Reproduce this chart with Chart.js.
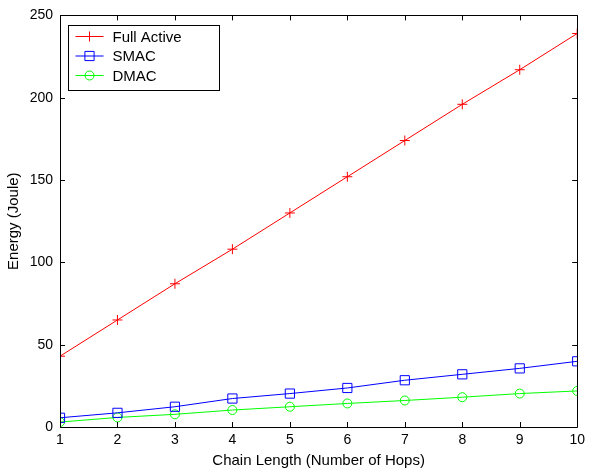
<!DOCTYPE html>
<html lang="en">
<head>
  <meta charset="UTF-8" />
  <title>Energy vs Chain Length</title>
  <script src="https://cdn.jsdelivr.net/npm/chart.js"></script>
  <style>
    html, body { margin: 0; padding: 0; background: #fff; }
    #wrap { width: 590px; height: 475px; }
  </style>
</head>
<body>
  <div id="wrap"><canvas id="energy" width="590" height="475"></canvas></div>
  <script>
    // Number of hops in the chain
    const hops = [1, 2, 3, 4, 5, 6, 7, 8, 9, 10];
    // Energy consumed (Joule) per protocol
    const fullActive = [43, 65, 87, 108, 130, 152, 174, 196, 217, 239];
    const smac = [5.6, 8.6, 12.3, 17.3, 20.3, 23.7, 28.4, 32, 35.6, 39.9];
    const dmac = [3, 5.8, 7.7, 10.3, 12.3, 14.3, 16.1, 18.1, 20.3, 21.9];
    const yTicks = [0, 50, 100, 150, 200, 250];

    const FONT = 'Liberation Sans, Arial, sans-serif';

    function pts(vals) {
      return hops.map((h, i) => ({ x: h, y: vals[i] }));
    }

    const series = [
      { label: 'Full Active', data: fullActive, color: '#ff0000', style: 'cross', r: 5 },
      { label: 'SMAC', data: smac, color: '#0000ff', style: 'rect', r: 6.5 },
      { label: 'DMAC', data: dmac, color: '#00ff00', style: 'circle', r: 4.5 }
    ];

    // box around the plot with inward ticks on all four sides, plus the legend
    const framePlugin = {
      id: 'frame',
      afterDraw(chart) {
        const ctx = chart.ctx;
        const a = chart.chartArea;
        const xs = chart.scales.x, ys = chart.scales.y;
        const tl = 5;
        ctx.save();
        ctx.strokeStyle = '#000';
        ctx.lineWidth = 1;
        ctx.beginPath();
        ctx.rect(Math.round(a.left) + 0.5, Math.round(a.top) + 0.5,
          Math.round(a.right - a.left), Math.round(a.bottom - a.top));
        ctx.stroke();
        ctx.beginPath();
        xs.ticks.forEach(t => {
          const px = Math.round(xs.getPixelForValue(t.value)) + 0.5;
          ctx.moveTo(px, a.bottom); ctx.lineTo(px, a.bottom - tl);
          ctx.moveTo(px, a.top); ctx.lineTo(px, a.top + tl);
        });
        ys.ticks.forEach(t => {
          const py = Math.round(ys.getPixelForValue(t.value)) + 0.5;
          ctx.moveTo(a.left, py); ctx.lineTo(a.left + tl, py);
          ctx.moveTo(a.right, py); ctx.lineTo(a.right - tl, py);
        });
        ctx.stroke();

        // legend
        const bx = Math.round(a.left) + 8.5, by = Math.round(a.top) + 10.5;
        const bw = 151, bh = 65;
        ctx.fillStyle = '#fff';
        ctx.fillRect(bx, by, bw, bh);
        ctx.strokeStyle = '#000';
        ctx.strokeRect(bx, by, bw, bh);
        ctx.font = '15px ' + FONT;
        ctx.textBaseline = 'middle';
        ctx.textAlign = 'left';
        series.forEach((s, i) => {
          const y = by + 11 + i * 19.5;
          ctx.strokeStyle = s.color;
          ctx.beginPath();
          ctx.moveTo(bx + 7, y); ctx.lineTo(bx + 35, y);
          ctx.stroke();
          ctx.fillStyle = 'rgba(0,0,0,0)';
          Chart.helpers.drawPoint(ctx, {
            pointStyle: s.style, radius: s.r, borderWidth: 1, rotation: 0
          }, bx + 21, y);
          ctx.fillStyle = '#000';
          ctx.fillText(s.label, bx + 44, y + 1);
        });
        ctx.restore();
      }
    };

    new Chart(document.getElementById('energy'), {
      type: 'line',
      data: {
        datasets: series.map(s => ({
          label: s.label,
          data: pts(s.data),
          borderColor: s.color,
          borderWidth: 1,
          pointStyle: s.style,
          pointRadius: s.r,
          pointBorderColor: s.color,
          pointBackgroundColor: 'rgba(0,0,0,0)',
          pointBorderWidth: 1,
          tension: 0
        }))
      },
      options: {
        responsive: false,
        animation: false,
        layout: { padding: { top: 13, right: 10, left: 0, bottom: 0 } },
        plugins: { legend: { display: false }, tooltip: { enabled: false } },
        scales: {
          x: {
            type: 'linear',
            min: 1, max: 10,
            grid: { display: false, drawTicks: false },
            border: { display: false },
            ticks: { stepSize: 1, padding: 5, color: '#000', font: { family: FONT, size: 14 } },
            title: {
              display: true, text: 'Chain Length (Number of Hops)', color: '#000',
              font: { family: FONT, size: 15 }, padding: { top: 1, bottom: 5 }
            },
            afterFit(s) { s.height = 48; }
          },
          y: {
            min: 0, max: 250,
            grid: { display: false, drawTicks: false },
            border: { display: false },
            afterBuildTicks(s) { s.ticks = yTicks.map(v => ({ value: v })); },
            ticks: { padding: 7, color: '#000', font: { family: FONT, size: 14 } },
            title: {
              display: true, text: 'Energy (Joule)', color: '#000',
              font: { family: FONT, size: 15 }, padding: { top: 5, bottom: 4 }
            },
            afterFit(s) { s.width = 60; }
          }
        }
      },
      plugins: [framePlugin]
    });
  </script>
</body>
</html>
